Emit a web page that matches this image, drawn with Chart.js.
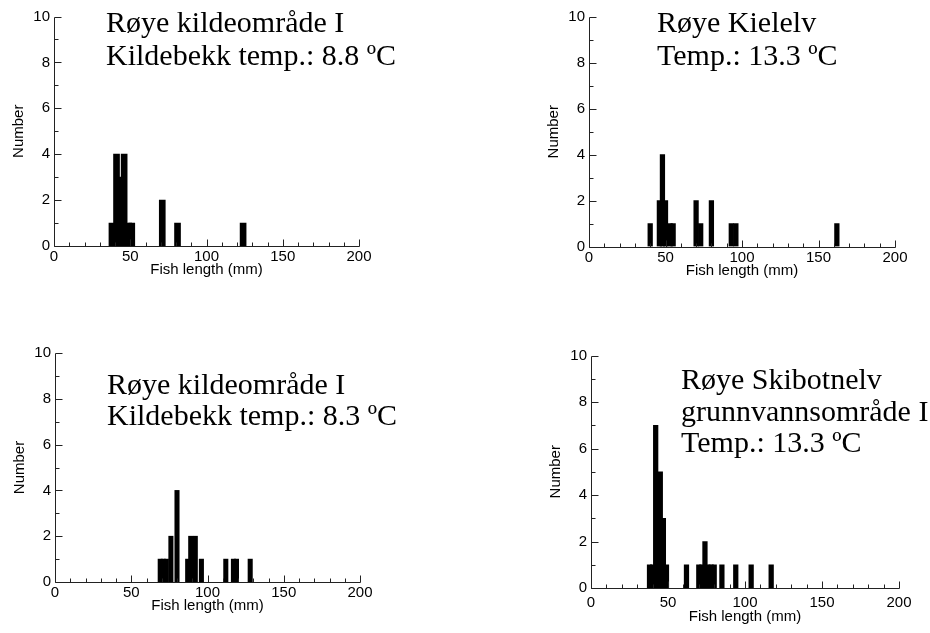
<!DOCTYPE html>
<html><head><meta charset="utf-8">
<script src="https://cdn.jsdelivr.net/npm/chart.js@4.4.1/dist/chart.umd.min.js"></script>
<style>
html,body{margin:0;padding:0;background:#fff;}
#wrap{position:relative;width:930px;height:633px;overflow:hidden;}
canvas{position:absolute;left:0;top:0;}
</style></head><body>
<div id="wrap">
<canvas id="c1" width="930" height="633"></canvas>
<canvas id="c2" width="930" height="633"></canvas>
<canvas id="c3" width="930" height="633"></canvas>
<canvas id="c4" width="930" height="633"></canvas>
</div>
<script>
// ---- data ----
const xTickLabels = [0, 50, 100, 150, 200];
const yTickLabels = [0, 2, 4, 6, 8, 10];
const xAxisTitle = "Fish length (mm)";
const yAxisTitle = "Number";

const p1Lengths = [38, 41, 43, 46, 49, 51, 71, 81, 124];
const p1Counts  = [1, 4, 3, 4, 1, 1, 2, 1, 1];
const p1Title   = ["Røye kildeområde I", "Kildebekk temp.: 8.8 ºC"];

const p2Lengths = [40, 46, 48, 50, 53, 55, 70, 73, 80, 93, 96, 162];
const p2Counts  = [1, 2, 4, 2, 1, 1, 2, 1, 2, 1, 1, 1];
const p2Title   = ["Røye Kielelv", "Temp.: 13.3 ºC"];

const p3Lengths = [69, 71, 73, 76, 80, 87, 89, 92, 96, 112, 117, 119, 128];
const p3Counts  = [1, 1, 1, 2, 4, 1, 2, 2, 1, 1, 1, 1, 1];
const p3Title   = ["Røye kildeområde I", "Kildebekk temp.: 8.3 ºC"];

const p4Lengths = [38, 40, 42, 45, 47, 49, 62, 70, 72, 74, 76, 78, 80, 85, 94, 104, 117];
const p4Counts  = [1, 1, 7, 5, 3, 1, 1, 1, 1, 2, 1, 1, 1, 1, 1, 1, 1];
const p4Title   = ["Røye Skibotnelv", "grunnvannsområde I", "Temp.: 13.3 ºC"];

// ---- drawing ----
const SANS = "'Liberation Sans', Arial, Helvetica, sans-serif";
const SERIF = "'Liberation Serif', 'Times New Roman', serif";
const YW = 50, XH = 40;

const axesPlugin = {
  id: 'axesPlugin',
  afterDraw(chart, args, opts) {
    const ctx = chart.ctx, x = chart.scales.x, y = chart.scales.y;
    const L = Math.round(x.getPixelForValue(0)) + 0.5;
    const R = Math.round(x.getPixelForValue(200)) + 0.5;
    const B = Math.round(y.getPixelForValue(0)) + 0.5;
    const T = Math.round(y.getPixelForValue(10)) + 0.5;
    ctx.save();
    ctx.strokeStyle = '#222';
    ctx.lineWidth = 1;
    ctx.beginPath();
    ctx.moveTo(L, T); ctx.lineTo(L, B); ctx.lineTo(R, B);
    for (let v = 0; v <= 200; v += 10) {
      const px = Math.round(x.getPixelForValue(v)) + 0.5;
      const len = (v % 50 === 0) ? 7 : 4;
      ctx.moveTo(px, B); ctx.lineTo(px, B - len);
    }
    for (let v = 0; v <= 10; v += 1) {
      const py = Math.round(y.getPixelForValue(v)) + 0.5;
      const len = (v % 2 === 0) ? 7 : 4;
      ctx.moveTo(L, py); ctx.lineTo(L + len, py);
    }
    ctx.stroke();
    // panel text
    ctx.fillStyle = '#000';
    ctx.font = '30px ' + SERIF;
    ctx.textAlign = 'left';
    ctx.textBaseline = 'alphabetic';
    opts.lines.forEach((t, i) => ctx.fillText(t, opts.x, opts.baselines[i]));
    ctx.restore();
  }
};

function makePanel(id, lengths, counts, lines, box, barPx, textPos, tickPad, titlePad) {
  const font = {family: SANS, size: 15};
  new Chart(document.getElementById(id), {
    type: 'bar',
    data: {
      datasets: [{
        data: lengths.map((v, i) => ({x: v, y: counts[i]})),
        backgroundColor: '#000',
        borderWidth: 0,
        barThickness: barPx
      }]
    },
    options: {
      responsive: false,
      animation: false,
      events: [],
      layout: {padding: {left: box.left - YW, right: 930 - box.right, top: box.top, bottom: 633 - box.bottom - XH}},
      plugins: {
        legend: {display: false},
        tooltip: {enabled: false},
        title: {display: false},
        axesPlugin: {lines: lines, x: textPos.x, baselines: textPos.baselines}
      },
      scales: {
        x: {
          type: 'linear', min: 0, max: 200, offset: false,
          grid: {display: false, drawTicks: false},
          border: {display: false},
          afterBuildTicks(s) { s.ticks = xTickLabels.map(v => ({value: v})); },
          ticks: {padding: tickPad, color: '#000', font: font, maxRotation: 0, autoSkip: false},
          title: {display: true, text: xAxisTitle, color: '#000', font: font, padding: {top: 0, bottom: titlePad}},
          afterFit(s) { s.height = XH; }
        },
        y: {
          type: 'linear', min: 0, max: 10,
          grid: {display: false, drawTicks: false},
          border: {display: false},
          afterBuildTicks(s) { s.ticks = yTickLabels.map(v => ({value: v})); },
          ticks: {padding: 4, color: '#000', font: font},
          title: {display: true, text: yAxisTitle, color: '#000', font: font, padding: {top: 6, bottom: 0}},
          afterFit(s) { s.width = YW; }
        }
      }
    },
    plugins: [axesPlugin]
  });
}

makePanel('c1', p1Lengths, p1Counts, p1Title, {left: 54, right: 359, top: 16.5, bottom: 246}, 6, {x: 106, baselines: [32, 65]}, 2, 7);
makePanel('c2', p2Lengths, p2Counts, p2Title, {left: 589, right: 895, top: 17, bottom: 246.5}, 4.6, {x: 657, baselines: [32, 65]}, 2, 7);
makePanel('c3', p3Lengths, p3Counts, p3Title, {left: 55, right: 360, top: 353, bottom: 582}, 4.4, {x: 107, baselines: [394, 425]}, 2, 7);
makePanel('c4', p4Lengths, p4Counts, p4Title, {left: 591, right: 899, top: 355.5, bottom: 588}, 4.6, {x: 681, baselines: [389, 421, 452]}, 6, 2);
</script>
</body></html>
